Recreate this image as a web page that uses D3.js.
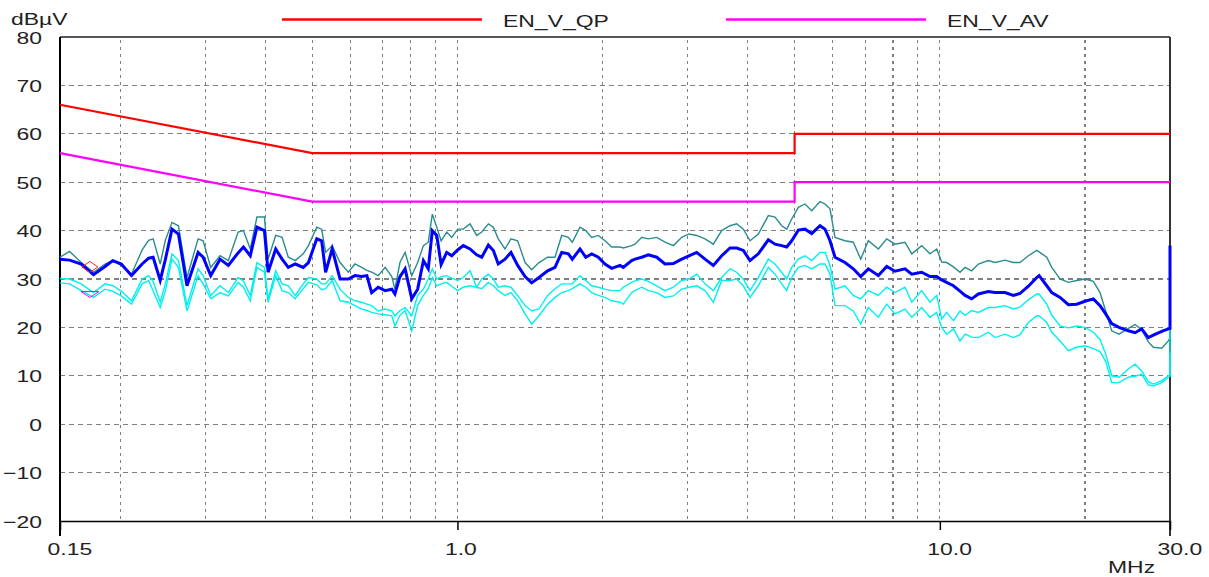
<!DOCTYPE html>
<html><head><meta charset="utf-8">
<script src="https://cdn.jsdelivr.net/npm/d3@7"></script>
<style>body{margin:0;background:#fff}svg{display:block}</style>
</head><body><svg id="c" width="1209" height="577"></svg>
<script>
// ---- data (MHz / dBµV) ----
const freqs = [
0.150,0.157,0.166,0.176,0.186,0.193,0.201,0.211,0.222,0.229,0.234,0.242,0.248,0.256,0.264,0.275,0.290,0.297,0.308,0.322,0.335,0.351,0.360,0.372,0.384,0.398,0.405,0.420,0.433,0.446,0.461,0.479,0.491,0.511,0.523,0.533,0.550,0.571,
0.594,0.613,0.633,0.649,0.664,0.685,0.708,0.731,0.742,0.760,0.779,0.804,0.827,0.850,0.870,0.887,0.906,0.925,0.950,0.973,1.001,1.028,1.062,1.096,1.123,1.159,1.187,1.215,1.255,1.291,1.333,1.381,1.425,1.476,1.538,1.593,1.645,1.698,1.730,1.795,1.845,1.898,1.959,2.022,2.088,2.173,
2.207,2.297,2.334,2.410,2.487,2.589,2.693,2.803,2.917,3.020,3.133,3.260,3.392,3.530,3.673,3.793,3.914,4.041,4.204,4.410,4.553,4.701,4.814,4.931,5.089,5.254,5.425,5.644,5.780,5.920,6.063,6.359,6.616,6.855,7.108,7.456,7.761,8.075,
8.469,8.745,9.171,9.541,9.851,10.09,10.33,10.67,11.01,11.28,11.64,12.02,12.60,13.01,13.65,14.20,14.66,15.26,15.88,16.06,16.66,17.06,17.75,18.47,19.22,20.00,20.81,21.48,22.07,22.71,23.52,24.59,25.39,26.21,27.05,27.70,28.84,29.76,30.0,30.0
];
const blueTrace = [
34.1,33.9,33.1,30.9,32.6,33.8,33.1,30.7,33.1,34.3,34.5,29.7,34.0,40.3,39.3,28.6,35.5,34.5,30.7,34.1,32.8,35.4,36.6,34.8,40.7,40.0,31.4,36.2,34.1,32.4,33.1,32.4,33.4,38.3,37.9,31.4,36.2,30.0,
30.0,30.7,30.5,30.7,27.2,28.3,27.6,27.9,26.9,30.5,32.1,25.9,27.9,33.8,32.1,40.0,39.0,33.0,35.5,34.8,36.0,36.9,36.2,35.0,34.5,37.0,35.9,33.1,34.1,35.5,32.8,30.5,29.2,30.3,31.7,32.4,35.5,35.2,34.1,36.2,34.5,35.2,34.5,33.1,32.2,32.8,
32.4,33.8,34.1,34.5,35.0,34.5,33.1,33.2,34.1,34.8,35.5,34.1,32.8,34.8,36.4,36.4,35.9,33.8,35.2,38.1,37.2,36.9,36.6,37.9,40.1,40.3,39.4,41.0,40.3,37.9,34.5,33.4,32.1,30.5,32.1,30.7,32.6,31.6,
32.1,31.0,31.4,30.5,30.5,29.8,29.3,28.6,27.5,26.6,25.9,26.9,27.4,27.2,27.2,26.6,27.0,28.5,30.3,30.7,28.6,27.2,26.2,24.7,24.8,25.4,25.9,24.5,22.8,20.8,20.0,19.3,18.9,19.7,17.9,18.4,19.2,19.7,19.8,36.9
];
const tealTrace = [
34.5,35.7,33.4,31.4,33.1,33.8,32.8,31.0,36.0,38.0,38.3,33.1,38.0,41.7,41.0,30.3,38.3,37.9,32.4,34.8,33.8,39.7,40.0,36.2,42.8,42.8,34.1,39.0,38.6,34.5,33.8,35.2,36.9,40.7,40.3,35.5,36.9,33.4,
31.4,33.1,32.4,31.8,31.4,30.7,32.4,30.5,27.9,33.4,35.5,30.7,33.4,36.9,37.6,43.4,40.7,37.9,39.7,38.6,40.3,40.3,41.4,39.0,39.7,41.4,40.7,38.3,36.2,38.3,37.9,33.4,31.9,33.4,34.5,34.5,39.0,38.6,37.6,40.7,40.0,38.6,39.0,37.9,36.6,36.6,
36.4,36.9,37.2,38.6,38.3,38.6,37.6,36.9,38.6,39.3,39.0,38.3,37.2,40.0,41.0,41.4,40.3,37.9,39.3,43.1,42.8,41.0,40.3,42.4,44.8,45.5,44.1,46.0,45.5,44.5,38.6,37.9,37.6,34.1,37.9,36.2,38.3,37.2,
37.6,35.2,36.9,35.2,36.2,33.5,33.4,32.5,31.4,32.4,31.7,33.1,33.8,33.4,33.9,33.4,33.4,34.8,35.9,35.6,34.5,32.4,30.0,29.3,29.7,30.0,29.5,27.2,23.4,19.3,18.6,19.8,20.6,19.5,17.0,15.9,15.7,17.2,17.9,20.0
];
const cyanUpper = [
30.1,30.0,29.0,27.2,29.0,28.6,27.5,25.5,30.0,30.7,29.5,25.2,29.0,35.2,33.8,24.5,32.1,30.7,26.6,28.6,27.2,30.3,29.6,26.6,33.4,32.4,25.9,31.7,29.0,28.6,26.6,29.0,30.3,30.0,29.0,29.0,30.7,27.9,
26.2,25.5,25.2,24.8,24.5,23.4,23.8,23.4,22.4,23.5,24.1,22.4,26.6,27.9,30.0,32.1,30.0,30.5,30.7,30.2,29.7,30.3,31.7,28.3,30.0,31.0,30.0,28.3,28.6,28.3,26.6,24.5,23.4,23.8,26.6,28.0,29.0,29.0,29.0,30.7,29.7,28.6,28.3,27.9,27.6,27.6,
28.3,29.3,29.6,30.0,29.5,28.6,27.6,28.3,29.7,30.0,31.0,29.0,27.6,30.3,32.1,31.4,30.0,27.6,30.3,34.1,33.1,31.4,30.0,32.4,34.1,34.8,33.8,35.5,35.5,32.8,27.9,28.6,26.6,25.9,27.6,26.6,28.3,27.2,
28.3,25.2,27.6,25.2,26.6,21.7,23.1,21.4,23.4,22.5,23.5,23.1,24.1,24.1,24.5,23.8,24.2,25.7,26.9,26.9,24.8,22.5,20.3,19.9,20.3,20.0,19.0,17.5,14.5,10.0,9.7,11.4,12.4,11.0,8.8,8.3,9.0,10.0,10.2,20.0
];
const cyanLower = [
29.2,29.0,27.6,26.2,27.9,27.5,26.5,24.8,29.0,29.7,27.5,24.1,27.5,34.1,32.4,23.4,30.7,29.0,25.9,27.2,26.5,29.3,28.3,25.5,32.4,31.4,25.2,30.7,27.6,27.2,25.9,28.0,29.3,28.8,27.8,28.0,29.7,25.5,
25.2,24.5,23.8,23.5,23.1,22.8,22.6,22.4,20.3,22.5,23.5,19.3,24.5,26.6,28.0,30.3,28.6,29.0,29.3,28.5,27.6,28.3,28.6,28.3,28.0,29.3,28.6,27.6,26.6,27.2,25.5,22.8,20.7,22.4,24.8,26.2,27.2,27.6,28.0,29.0,28.3,27.2,26.6,26.2,25.5,25.2,
24.8,27.2,27.6,28.3,27.6,27.2,26.2,26.5,27.9,28.3,28.6,27.6,25.2,29.7,29.7,30.0,28.6,26.2,28.6,32.4,31.0,29.0,27.6,30.3,32.4,32.8,32.1,33.1,33.1,31.0,24.5,24.5,23.4,20.7,24.1,22.1,24.8,22.8,
23.8,22.1,24.1,22.1,23.1,20.0,18.6,19.7,17.2,18.6,18.0,17.9,19.0,17.9,18.6,17.9,18.5,21.0,22.4,22.4,21.0,19.0,17.2,15.2,15.9,16.2,15.6,15.0,13.0,8.6,8.6,9.7,9.9,10.3,8.1,7.9,8.6,9.7,9.9,14.8
];
const limitFreqs = [0.15, 0.5, 5, 5, 30];
const qpLimit = [66, 56, 56, 60, 60];
const avLimit = [56, 46, 46, 50, 50];
const markerFreq = [0.173];
const qpMarker = [32.5];
const avMarker = [26.8];
const yTicks = [80,70,60,50,40,30,20,10,0,-10,-20];
const hGrid = [70,60,50,40,30,20,10,0,-10];
const vGrid = [0.2,0.3,0.4,0.5,0.6,0.7,0.8,0.9,1,2,3,4,5,6,7,8,9,10,20];
const xTickValues = [0.15, 1, 10, 30];
const xTickLabels = ["0.15","1.0","10.0","30.0"];
const legendNames = ["EN_V_QP","EN_V_AV"];

// ---- drawing ----
const svg = d3.select('#c');
const x = d3.scaleLog().domain([0.15,30]).range([60,1170]);
const y = d3.scaleLinear().domain([-20,80]).range([521,37]);
const SX = 1.35;
const FONT = "'Liberation Sans', Arial, Helvetica, sans-serif";
const TXT = '#222';

// grid
svg.append('g').selectAll('line').data(hGrid).join('line')
  .attr('x1',x(0.15)).attr('x2',x(30)).attr('y1',d=>y(d)).attr('y2',d=>y(d))
  .attr('stroke','#808080').attr('stroke-width',1.2).attr('stroke-dasharray','5,4')
  .attr('shape-rendering','crispEdges');
svg.append('g').selectAll('line').data(vGrid).join('line')
  .attr('x1',d=>x(d)).attr('x2',d=>x(d)).attr('y1',y(80)+3).attr('y2',y(-20))
  .attr('stroke','#808080').attr('stroke-width',1.2).attr('stroke-dasharray','3,4')
  .attr('shape-rendering','crispEdges');

// frame
svg.append('line').attr('x1',x(0.15)).attr('x2',x(30)).attr('y1',y(80)).attr('y2',y(80))
  .attr('stroke','#555').attr('stroke-width',2);
svg.append('line').attr('x1',x(30)).attr('x2',x(30)).attr('y1',y(80)).attr('y2',y(-20)+15)
  .attr('stroke','#333').attr('stroke-width',2);
svg.append('line').attr('x1',x(0.15)).attr('x2',x(0.15)).attr('y1',y(80)).attr('y2',y(-20)+15)
  .attr('stroke','#000').attr('stroke-width',2);

// axes
const xAxis = svg.append('g').attr('transform',`translate(0,${y(-20)})`)
  .call(d3.axisBottom(x).tickValues(xTickValues).tickFormat((d,i)=>xTickLabels[i]).tickSize(9).tickSizeOuter(0));
xAxis.select('.domain').attr('stroke','#000').attr('stroke-width',1.5);
xAxis.selectAll('.tick line').attr('stroke','#000').attr('stroke-width',1.5);
xAxis.selectAll('.tick text').attr('y',0).attr('dy',0).attr('text-anchor','start')
  .attr('transform',`translate(-13,34) scale(${SX},1)`)
  .attr('font-size',17).attr('font-family',FONT).attr('fill',TXT);

const yAxis = svg.append('g').attr('transform',`translate(${x(0.15)},0)`)
  .call(d3.axisLeft(y).tickValues(yTicks).tickSize(0).tickSizeOuter(0));
yAxis.select('.domain').remove();
yAxis.selectAll('.tick text').attr('x',0).attr('dy',0).attr('text-anchor','end')
  .attr('transform',`translate(-18,6) scale(${SX},1)`)
  .attr('font-size',17).attr('font-family',FONT).attr('fill',TXT);

function stretched(tx, ty, str, anchor) {
  svg.append('text').attr('transform',`translate(${tx},${ty}) scale(${SX},1)`)
    .attr('text-anchor',anchor).attr('font-size',17).attr('font-family',FONT)
    .attr('fill',TXT).text(str);
}
stretched(11, 25, 'dBµV', 'start');
stretched(1108, 573, 'MHz', 'start');

// legend
const legendColors = ['#ff0000','#ff00ff'];
const legendX = [282, 726];
legendNames.forEach((n,i)=>{
  svg.append('line').attr('x1',legendX[i]).attr('x2',legendX[i]+200).attr('y1',19.5).attr('y2',19.5)
    .attr('stroke',legendColors[i]).attr('stroke-width',2.5);
  stretched(legendX[i]+221, 27, n, 'start');
});

// limit lines
const lim = d3.line().x((d,i)=>x(limitFreqs[i])).y(d=>y(d));
svg.append('path').attr('d',lim(qpLimit)).attr('fill','none').attr('stroke','#ff0000').attr('stroke-width',2.2);
svg.append('path').attr('d',lim(avLimit)).attr('fill','none').attr('stroke','#ff00ff').attr('stroke-width',2.2);

// traces
const tr = d3.line().x((d,i)=>x(freqs[i])).y(d=>y(d));
svg.append('path').attr('d',tr(tealTrace)).attr('fill','none').attr('stroke','#2a8c8c').attr('stroke-width',1.4);
svg.append('path').attr('d',tr(cyanLower)).attr('fill','none').attr('stroke','#00f0f0').attr('stroke-width',1.4);
svg.append('path').attr('d',tr(cyanUpper)).attr('fill','none').attr('stroke','#00f0f0').attr('stroke-width',1.4);
svg.append('path').attr('d',tr(blueTrace)).attr('fill','none').attr('stroke','#0000ff').attr('stroke-width',3);

// markers
const sym = svg.append('g');
sym.selectAll('path.qp').data(qpMarker).join('path').attr('class','qp')
  .attr('transform',(d,i)=>`translate(${x(markerFreq[i])},${y(d)})`)
  .attr('d','M-8,0L0,-5.5L8,0L0,5.5Z').attr('fill','none').attr('stroke','#ff2020').attr('stroke-width',1);
sym.selectAll('path.av').data(avMarker).join('path').attr('class','av')
  .attr('transform',(d,i)=>`translate(${x(markerFreq[i])},${y(d)})`)
  .attr('d','M-9,-3L9,-3L0,3Z').attr('fill','none').attr('stroke','#ff00ff').attr('stroke-width',1);
</script></body></html>
